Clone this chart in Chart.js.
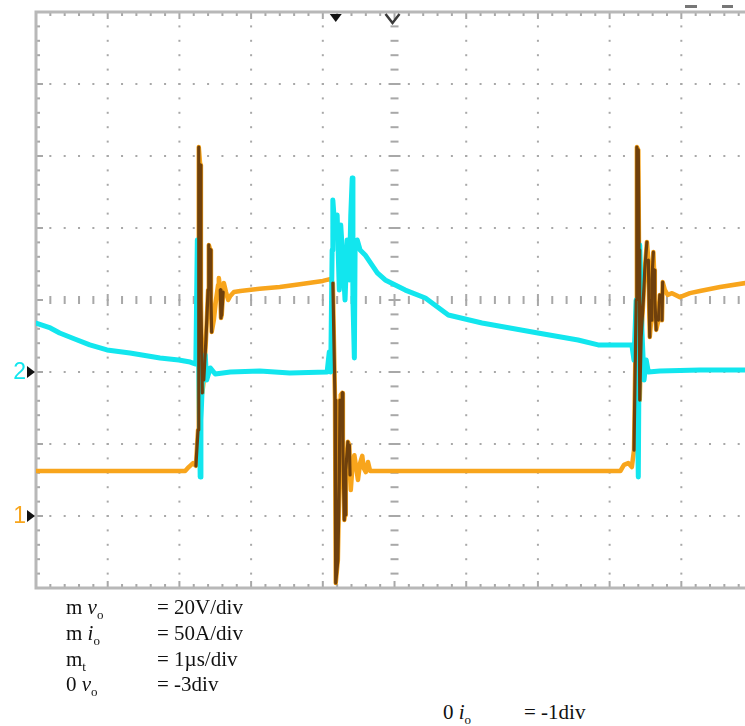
<!DOCTYPE html>
<html>
<head>
<meta charset="utf-8">
<script src="https://cdn.jsdelivr.net/npm/chart.js@4.4.1/dist/chart.umd.min.js"></script>
<style>
  body { margin: 0; background: #fff; width: 745px; height: 726px; overflow: hidden; position: relative; }
  #scope { position: absolute; left: 0; top: 0; }
  .lab { position: absolute; font-family: "Liberation Serif", "Times New Roman", serif; font-size: 21px; line-height: 21px; color: #111; white-space: nowrap; }
  .lab sub { font-size: 13px; vertical-align: -5px; line-height: 0; }
</style>
</head>
<body>
<canvas id="scope" width="745" height="600"></canvas>

<div class="lab" style="left:66px;top:597px">m <i>v</i><sub>o</sub></div>
<div class="lab" style="left:157px;top:597px">= 20V/div</div>
<div class="lab" style="left:66px;top:623px">m <i>i</i><sub>o</sub></div>
<div class="lab" style="left:157px;top:623px">= 50A/div</div>
<div class="lab" style="left:66px;top:649px">m<sub>t</sub></div>
<div class="lab" style="left:157px;top:649px">= 1µs/div</div>
<div class="lab" style="left:66px;top:674px">0 <i>v</i><sub>o</sub></div>
<div class="lab" style="left:157px;top:674px">= -3div</div>
<div class="lab" style="left:443px;top:702px">0 <i>i</i><sub>o</sub></div>
<div class="lab" style="left:524px;top:702px">= -1div</div>

<script>
// time axis: 1 us/div, screen shows 0 .. ~9.9 div (right edge cut off)
const tMax = 9.888;

// channel 1: output voltage v_o (V), 20 V/div, ground at -3 div
const vTime = [0.00, 2.08, 2.13, 2.19, 2.23, 2.26, 2.27, 2.29, 2.30, 2.32, 2.34, 2.37, 2.40, 2.41, 2.43, 2.44,
  2.45, 2.48, 2.51, 2.54, 2.55, 2.57, 2.58, 2.59, 2.61, 2.62, 2.65, 2.68, 2.71, 2.76, 2.85, 3.12, 3.40, 3.68,
  4.00, 4.10, 4.14, 4.17, 4.18, 4.21, 4.23, 4.24, 4.25, 4.27, 4.28, 4.30, 4.31, 4.32, 4.35, 4.37, 4.38, 4.39,
  4.41, 4.44, 4.46, 4.49, 4.52, 4.55, 4.57, 4.60, 4.63, 4.66, 4.80, 8.15, 8.20, 8.26, 8.31, 8.34, 8.37, 8.38,
  8.40, 8.41, 8.42, 8.44, 8.47, 8.49, 8.52, 8.54, 8.55, 8.56, 8.58, 8.59, 8.61, 8.62, 8.63, 8.65, 8.68, 8.70,
  8.72, 8.73, 8.74, 8.77, 8.81, 8.87, 8.98, 9.12, 9.26, 9.54, 9.89];
const vVolt = [12.5, 12.5, 13.6, 14.7, 13.9, 23.9, 102.5, 97.5, 60.0, 34.2, 37.8, 48.9, 62.8, 75.3, 73.9, 60.0,
  51.1, 54.4, 60.0, 64.2, 66.1, 62.8, 55.0, 55.8, 62.2, 64.7, 62.2, 60.0, 61.1, 62.2, 62.5, 63.1, 63.6, 64.4,
  65.3, 65.8, 64.7, 32.2, -18.6, -12.2, 10.0, 32.2, 33.6, 34.2, 18.3, -1.1, 0.3, 12.8, 20.6, 19.7, 11.4, 7.2,
  12.8, 16.9, 14.2, 10.0, 14.7, 16.7, 13.3, 12.2, 15.0, 12.5, 12.5, 12.5, 14.2, 14.7, 13.6, 18.3, 60.0, 102.5,
  101.7, 73.9, 32.2, 49.7, 60.0, 68.3, 76.1, 71.1, 60.0, 49.7, 54.4, 65.6, 73.3, 68.3, 60.0, 51.7, 54.4, 61.4,
  57.2, 54.4, 65.0, 62.8, 61.4, 61.9, 60.8, 61.9, 62.5, 63.6, 64.7];

// channel 2: output current i_o (A), 50 A/div, ground at -1 div
const iTime = [0.00, 0.20, 0.33, 0.54, 0.75, 0.99, 1.31, 1.73, 1.99, 2.15, 2.22, 2.23, 2.25, 2.26, 2.27, 2.29,
  2.30, 2.33, 2.36, 2.38, 2.43, 2.50, 2.71, 3.12, 3.54, 4.06, 4.09, 4.11, 4.13, 4.14, 4.17, 4.20, 4.23, 4.25,
  4.28, 4.31, 4.34, 4.37, 4.39, 4.41, 4.42, 4.44, 4.45, 4.48, 4.52, 4.59, 4.76, 4.87, 5.15, 5.43, 5.75, 6.22,
  6.61, 7.00, 7.56, 7.84, 8.31, 8.34, 8.37, 8.40, 8.42, 8.45, 8.48, 8.51, 8.54, 8.70, 9.26, 9.89];
const iAmp = [34.0, 30.6, 27.1, 22.9, 18.8, 15.3, 13.2, 9.7, 8.3, 6.9, 5.6, 9.7, 91.7, 29.2, 4.9, -72.9,
  -33.3, 4.9, 11.8, -5.6, 2.8, -1.4, 0.0, 0.7, -0.7, 0.0, 13.9, 0.0, 84.7, 119.4, 98.6, 109.0, 56.9, 102.1,
  77.8, 50.0, 91.7, 63.9, 109.0, 134.7, 50.0, 9.7, 84.7, 91.7, 84.7, 81.3, 68.8, 63.9, 56.9, 51.4, 39.6, 34.0,
  30.6, 27.1, 22.2, 18.8, 18.8, 8.3, 50.0, -72.9, 88.2, 29.2, -5.6, 8.3, 0.0, 0.7, 1.4, 1.4];

const orange = "#f8a51c";
const brown = "#6f400c";
const cyan = "#12e6ee";

const vPoints = vTime.map((t, i) => ({ x: t, y: vVolt[i] }));
const iPoints = iTime.map((t, i) => ({ x: t, y: iAmp[i] }));

// scope graticule: dotted divisions, ticked centre lines, border ticks
const graticule = {
    id: "graticule",
    beforeDatasetsDraw(chart) {
        const { ctx, chartArea: a, scales } = chart;
        const x = scales.x, d = scales.yDiv;
        ctx.save();
        ctx.fillStyle = "#a8a8a8";
        for (let i = 1; i <= 9; i++) {
            const px = x.getPixelForValue(i);
            for (let k = 1; k < 40; k++) {
                const py = d.getPixelForValue(-4 + k * 0.2);
                if (i === 5) {
                    const w = k % 5 === 0 ? 12 : 8;
                    ctx.fillRect(px - w / 2, py - 1, w, 2);
                } else {
                    ctx.fillRect(px - 1, py - 1, 2, 2);
                }
            }
        }
        for (let j = -3; j <= 3; j++) {
            const py = d.getPixelForValue(j);
            for (let k = 1; k < 50; k++) {
                const px = x.getPixelForValue(k * 0.2);
                if (px > a.right) break;
                if (j === 0) {
                    const h = k % 5 === 0 ? 12 : 8;
                    ctx.fillRect(px - 1, py - h / 2, 2, h);
                } else {
                    ctx.fillRect(px - 1, py - 1, 2, 2);
                }
            }
        }
        // border ticks
        for (let k = 1; k < 40; k++) {
            const py = d.getPixelForValue(-4 + k * 0.2);
            ctx.fillRect(a.left, py - 1, k % 5 === 0 ? 7 : 4, 2);
        }
        for (let k = 1; k < 50; k++) {
            const px = x.getPixelForValue(k * 0.2);
            if (px > a.right) break;
            const h = k % 5 === 0 ? 7 : 4;
            ctx.fillRect(px - 1, a.top, 2, h);
            ctx.fillRect(px - 1, a.bottom - h, 2, h);
        }
        ctx.strokeStyle = "#b8b8b8";
        ctx.lineWidth = 3;
        ctx.beginPath();
        ctx.moveTo(a.right, a.top);
        ctx.lineTo(a.left, a.top);
        ctx.lineTo(a.left, a.bottom);
        ctx.lineTo(a.right, a.bottom);
        ctx.stroke();
        ctx.restore();
    },
    afterDraw(chart) {
        const { ctx, chartArea: a, scales } = chart;
        const x = scales.x;
        ctx.save();
        // trigger position and centre markers at the top
        const tx = x.getPixelForValue(4.18);
        ctx.fillStyle = "#111";
        ctx.beginPath();
        ctx.moveTo(tx - 6, a.top + 2);
        ctx.lineTo(tx + 6, a.top + 2);
        ctx.lineTo(tx, a.top + 10);
        ctx.closePath();
        ctx.fill();
        const cx = x.getPixelForValue(5) - 2;
        ctx.strokeStyle = "#3a3a3a";
        ctx.lineWidth = 2.5;
        ctx.beginPath();
        ctx.moveTo(cx - 7, a.top + 2);
        ctx.lineTo(cx, a.top + 11);
        ctx.lineTo(cx + 7, a.top + 2);
        ctx.stroke();
        ctx.fillStyle = "#777";
        ctx.fillRect(685, 5, 12, 3);
        ctx.fillRect(722, 5, 11, 3);
        // channel ground markers
        const marks = [
            { label: "2", color: cyan, py: scales.yI.getPixelForValue(0) },
            { label: "1", color: orange, py: scales.yV.getPixelForValue(0) }
        ];
        ctx.font = "23px 'Liberation Sans', Arial, sans-serif";
        ctx.textAlign = "right";
        ctx.textBaseline = "middle";
        for (const m of marks) {
            ctx.fillStyle = m.color;
            ctx.fillText(m.label, 26, m.py + 1);
            ctx.fillStyle = "#111";
            ctx.beginPath();
            ctx.moveTo(27, m.py - 6);
            ctx.lineTo(35, m.py);
            ctx.lineTo(27, m.py + 6);
            ctx.closePath();
            ctx.fill();
        }
        ctx.restore();
    }
};

// steep ringing edges show darker on the scope screen
const steep = ctx => Math.abs(ctx.p1.y - ctx.p0.y) > 22 ? brown : "rgba(0,0,0,0)";

new Chart(document.getElementById("scope"), {
    type: "line",
    data: {
        datasets: [
            { data: vPoints, yAxisID: "yV", borderColor: "rgba(0,0,0,0)", borderWidth: 3.2,
              segment: { borderColor: steep }, order: 0 },
            { data: iPoints, yAxisID: "yI", borderColor: cyan, borderWidth: 5, order: 1 },
            { data: vPoints, yAxisID: "yV", borderColor: orange, borderWidth: 4.5, order: 2 }
        ]
    },
    options: {
        responsive: false,
        animation: false,
        layout: { padding: { left: 36, right: 0, top: 12, bottom: 12 } },
        elements: {
            point: { radius: 0 },
            line: { tension: 0, borderJoinStyle: "round", borderCapStyle: "round" }
        },
        plugins: { legend: { display: false }, tooltip: { enabled: false } },
        scales: {
            x: { type: "linear", min: 0, max: tMax, display: false },
            yV: { type: "linear", min: -20, max: 140, display: false },
            yI: { type: "linear", min: -150, max: 250, display: false },
            yDiv: { type: "linear", min: -4, max: 4, display: false }
        }
    },
    plugins: [graticule]
});
</script>
</body>
</html>
